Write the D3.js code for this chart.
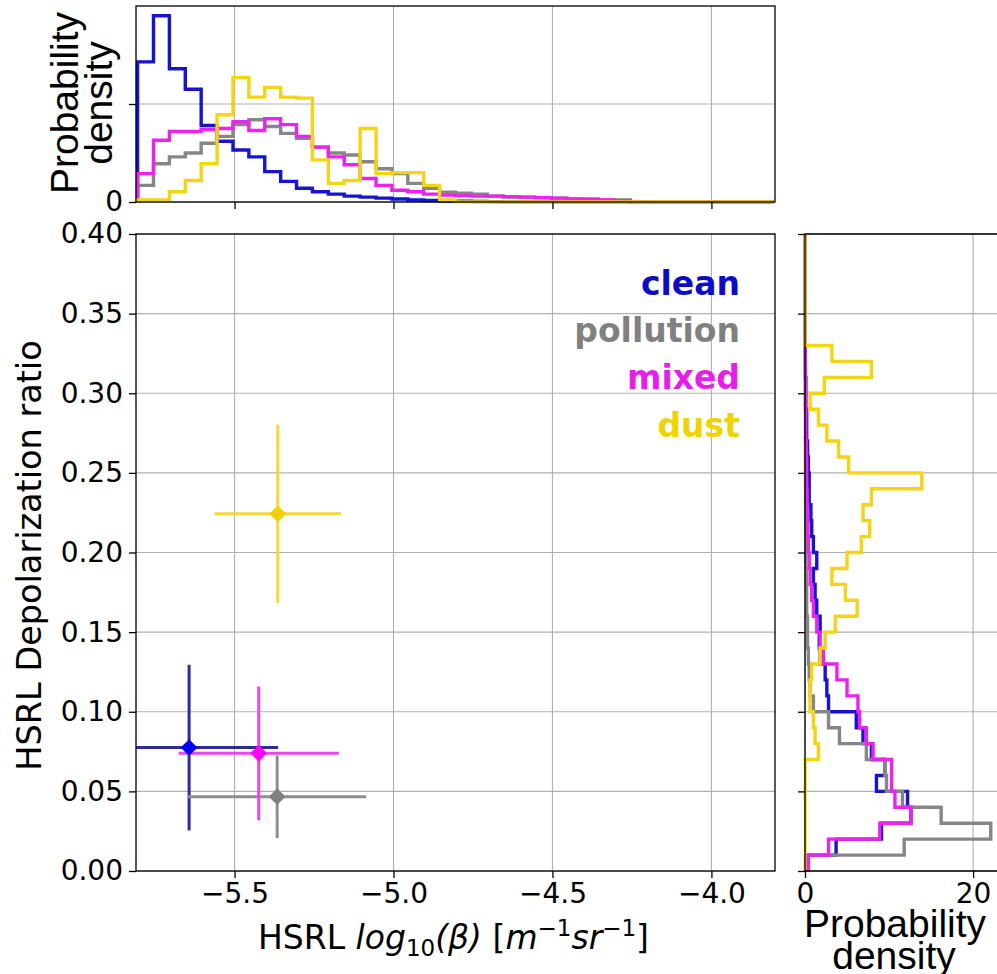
<!DOCTYPE html>
<html><head><meta charset="utf-8">
<script src="https://cdn.jsdelivr.net/npm/d3@7"></script>
<style>body{margin:0;background:#fff}svg{display:block}</style>
</head><body><svg id="c" width="997" height="974"></svg>
<script>
// ---------- data ----------
const categories = ["clean", "pollution", "mixed", "dust"];
const histColors = ["#1414d2", "#868686", "#ee22ee", "#f5d414"];
const markerColors = ["#0000ff", "#808080", "#ff00ff", "#f5d000"];
const errColors = ["#2b2b9c", "#8e8e8e", "#ee44ee", "#f3d838"];
const legendColors = ["#0c0cc8", "#808080", "#e81ee8", "#f0d400"];

// mean and spread of log10(beta) and depolarization ratio per class
const xMean = [-5.643, -5.366, -5.424, -5.364];
const xErr  = [0.28, 0.28, 0.252, 0.199];
const yMean = [0.0775, 0.0467, 0.0739, 0.2243];
const yErr  = [0.052, 0.026, 0.042, 0.056];

// top marginal histogram (log10 beta), bins of 0.05 starting at -5.805
const topBinStart = -5.805, topBinWidth = 0.05;
const topClean = [1.43,1.90,1.36,1.15,0.78,0.62,0.53,0.46,0.31,0.21,0.14,0.105,0.08,0.06,0.05,0.04,0.03,0.02,0.015,0.01,0.008,0.005,0.003,0,0,0,0,0,0,0,0,0,0,0,0,0,0,0,0,0];
const topPollution = [0.17,0.39,0.46,0.50,0.60,0.67,0.79,0.84,0.77,0.70,0.65,0.56,0.50,0.48,0.41,0.34,0.29,0.19,0.14,0.10,0.09,0.08,0.06,0.05,0.05,0.045,0.04,0.03,0.03,0.02,0.02,0,0,0,0,0,0,0,0,0];
const topMixed = [0.29,0.63,0.72,0.72,0.74,0.75,0.82,0.73,0.85,0.79,0.67,0.56,0.46,0.38,0.24,0.17,0.12,0.105,0.08,0.07,0.065,0.06,0.06,0.055,0.05,0.045,0.04,0.03,0.025,0.02,0.01,0,0,0,0,0,0,0,0,0];
const topDust = [0.02,0.02,0.105,0.22,0.39,0.89,1.27,1.07,1.17,1.07,1.06,0.43,0.19,0.22,0.75,0.29,0.30,0.30,0.17,0.02,0,0,0,0,0,0,0,0,0,0,0,0,0,0,0,0,0,0,0,0];

// right marginal histogram (depolarization), bins of 0.01 from 0 to 0.40
const rightBinStart = 0, rightBinWidth = 0.01;
const rightClean = [0.2,3.7,9.1,12.6,12.2,8.5,9.5,7.9,6.9,6.1,2.8,2.6,2.4,1.8,1.7,1.8,1.4,1.2,1.0,1.4,1.0,0.8,0.7,0.5,0.5,0.4,0.3,0.2,0.2,0.1,0.1,0.05,0.05,0,0,0,0,0,0,0];
const rightPollution = [0.4,11.8,22.1,16.2,11.6,9.7,9.5,7.3,4.1,2.8,1.0,0.6,0.5,0.4,0.3,0.3,0.2,0.2,0.15,0.1,0.1,0.08,0.06,0.05,0.05,0.04,0.03,0.02,0.02,0.01,0,0,0,0,0,0,0,0,0,0];
const rightMixed = [0.4,2.8,8.9,12.6,10.7,10.3,10.3,8.1,7.3,6.5,6.3,5.0,3.8,2.2,1.8,1.4,1.0,0.8,0.6,0.5,0.4,0.35,0.3,0.25,0.2,0.2,0.15,0.1,0.1,0.05,0.05,0.03,0,0,0,0,0,0,0,0];
const rightDust = [0,0,0,0,0,0,0,1.6,1.2,1.0,0.6,0.6,0.8,1.8,2.4,3.6,6.2,4.8,3.2,5.0,6.7,7.7,6.9,7.9,13.9,5.2,4.0,2.6,1.6,0.6,2.3,7.9,3.2,0,0,0,0,0,0,0];

const xTicks = [-5.5, -5.0, -4.5, -4.0];
const yTicks = [0, 0.05, 0.10, 0.15, 0.20, 0.25, 0.30, 0.35, 0.40];
const topYTicks = [0, 1];
const rightXTicks = [0, 20];

const topSeries = [topClean, topPollution, topMixed, topDust];
const rightSeries = [rightClean, rightPollution, rightMixed, rightDust];

// ---------- layout ----------
const svg = d3.select("#c");
svg.append("rect").attr("width", 997).attr("height", 974).attr("fill", "#fff");

const M = {l: 136, r: 775, t: 234, b: 871};
const T = {t: 6, b: 202};
const R = {l: 805, r: 1000};

const x = d3.scaleLinear().domain([-5.81, -3.80]).range([M.l, M.r]);
const y = d3.scaleLinear().domain([0, 0.40]).range([M.b, M.t]);
const yTop = d3.scaleLinear().domain([0, 2]).range([T.b, T.t]);
const xRight = d3.scaleLinear().domain([0, 23.2]).range([R.l, R.r]);

const gridColor = "#b0b0b0";
const tickFont = "DejaVu Sans, sans-serif";
const tickSize = 28;

const defs = svg.append("defs");
function clip(id, x0, y0, w, h) {
  defs.append("clipPath").attr("id", id).append("rect")
    .attr("x", x0).attr("y", y0).attr("width", w).attr("height", h);
}
clip("cTop", M.l - 1, T.t, M.r - M.l + 2, T.b - T.t + 1.5);
clip("cRight", R.l - 1.5, M.t, R.r - R.l + 2, M.b - M.t + 1);

// ---------- grids ----------
const grid = svg.append("g").attr("stroke", gridColor).attr("stroke-width", 1.1);
xTicks.forEach(v => {
  grid.append("line").attr("x1", x(v)).attr("x2", x(v)).attr("y1", M.t).attr("y2", M.b);
  grid.append("line").attr("x1", x(v)).attr("x2", x(v)).attr("y1", T.t).attr("y2", T.b);
});
yTicks.forEach(v => {
  grid.append("line").attr("x1", M.l).attr("x2", M.r).attr("y1", y(v)).attr("y2", y(v));
  grid.append("line").attr("x1", R.l).attr("x2", R.r).attr("y1", y(v)).attr("y2", y(v));
});
topYTicks.forEach(v => {
  grid.append("line").attr("x1", M.l).attr("x2", M.r).attr("y1", yTop(v)).attr("y2", yTop(v));
});
rightXTicks.forEach(v => {
  grid.append("line").attr("x1", xRight(v)).attr("x2", xRight(v)).attr("y1", M.t).attr("y2", M.b);
});

// ---------- histograms ----------
function topPts(vals) {
  const pts = [[topBinStart, 0]];
  vals.forEach((v, i) => {
    pts.push([topBinStart + i * topBinWidth, v]);
    pts.push([topBinStart + (i + 1) * topBinWidth, v]);
  });
  pts.push([topBinStart + vals.length * topBinWidth, 0]);
  return pts;
}
function rightPts(vals) {
  const pts = [[0, rightBinStart]];
  vals.forEach((v, i) => {
    pts.push([v, rightBinStart + i * rightBinWidth]);
    pts.push([v, rightBinStart + (i + 1) * rightBinWidth]);
  });
  pts.push([0, rightBinStart + vals.length * rightBinWidth]);
  return pts;
}
const topLine = d3.line().x(d => x(d[0])).y(d => yTop(d[1]));
const rightLine = d3.line().x(d => xRight(d[0])).y(d => y(d[1]));

const gTop = svg.append("g").attr("clip-path", "url(#cTop)");
const gRight = svg.append("g").attr("clip-path", "url(#cRight)");
categories.forEach((c, i) => {
  gTop.append("path").attr("d", topLine(topPts(topSeries[i])))
    .attr("fill", "none").attr("stroke", histColors[i]).attr("stroke-width", 3.4)
    .attr("stroke-linejoin", "miter");
  gRight.append("path").attr("d", rightLine(rightPts(rightSeries[i])))
    .attr("fill", "none").attr("stroke", histColors[i]).attr("stroke-width", 3.4)
    .attr("stroke-linejoin", "miter");
});

// ---------- error bars ----------
const gErr = svg.append("g");
categories.forEach((c, i) => {
  gErr.append("line")
    .attr("x1", x(Math.max(xMean[i] - xErr[i], -5.81))).attr("x2", x(xMean[i] + xErr[i]))
    .attr("y1", y(yMean[i])).attr("y2", y(yMean[i]))
    .attr("stroke", errColors[i]).attr("stroke-width", 3);
  gErr.append("line")
    .attr("x1", x(xMean[i])).attr("x2", x(xMean[i]))
    .attr("y1", y(yMean[i] - yErr[i])).attr("y2", y(yMean[i] + yErr[i]))
    .attr("stroke", errColors[i]).attr("stroke-width", 3);
});
categories.forEach((c, i) => {
  gErr.append("path")
    .attr("d", d3.symbol().type(d3.symbolSquare).size(140)())
    .attr("transform", `translate(${x(xMean[i])},${y(yMean[i])}) rotate(45)`)
    .attr("fill", markerColors[i]);
});

// ---------- legend ----------
const gLeg = svg.append("g").attr("font-family", "DejaVu Sans, sans-serif")
  .attr("font-weight", "bold").attr("font-size", 33).attr("text-anchor", "end");
categories.forEach((c, i) => {
  gLeg.append("text").attr("x", 740).attr("y", 295 + i * 47.2)
    .attr("fill", legendColors[i]).text(c);
});

// ---------- axes ----------
function styleAxis(g) {
  g.selectAll(".domain").remove();
  g.selectAll(".tick line").attr("stroke", "#000").attr("stroke-width", 1.3);
  g.selectAll(".tick text").attr("font-family", tickFont).attr("font-size", tickSize).attr("fill", "#000");
}
// main
svg.append("g").attr("transform", `translate(0,${M.b})`)
  .call(d3.axisBottom(x).tickValues(xTicks).tickFormat(d3.format(".1f")).tickSize(7).tickPadding(5))
  .call(styleAxis);
svg.append("g").attr("transform", `translate(${M.l},0)`)
  .call(d3.axisLeft(y).tickValues(yTicks).tickFormat(d3.format(".2f")).tickSize(7).tickPadding(6))
  .call(styleAxis);
// top
svg.append("g").attr("transform", `translate(0,${T.b})`)
  .call(d3.axisBottom(x).tickValues(xTicks).tickFormat("").tickSize(7))
  .call(styleAxis);
svg.append("g").attr("transform", `translate(${M.l},0)`)
  .call(d3.axisLeft(yTop).tickValues(topYTicks).tickFormat(d => d === 0 ? "0" : "").tickSize(7).tickPadding(6))
  .call(styleAxis);
// right
svg.append("g").attr("transform", `translate(0,${M.b})`)
  .call(d3.axisBottom(xRight).tickValues(rightXTicks).tickFormat(d3.format("d")).tickSize(7).tickPadding(5))
  .call(styleAxis);
svg.append("g").attr("transform", `translate(${R.l},0)`)
  .call(d3.axisLeft(y).tickValues(yTicks).tickFormat("").tickSize(7))
  .call(styleAxis);

// spines
const sp = svg.append("g").attr("stroke", "#000").attr("stroke-width", 1.3).attr("fill", "none");
sp.append("rect").attr("x", M.l).attr("y", M.t).attr("width", M.r - M.l).attr("height", M.b - M.t);
sp.append("rect").attr("x", M.l).attr("y", T.t).attr("width", M.r - M.l).attr("height", T.b - T.t);
sp.append("path").attr("d", `M${R.r + 5},${M.t}H${R.l}V${M.b}H${R.r + 5}`);

// ---------- axis labels ----------
svg.append("text").attr("transform", `translate(41,${(M.t + M.b) / 2 + 3}) rotate(-90)`)
  .attr("text-anchor", "middle").attr("font-family", "DejaVu Sans, sans-serif")
  .attr("font-size", 33.5).text("HSRL Depolarization ratio");

const xl = svg.append("text").attr("x", (M.l + M.r) / 2 - 2).attr("y", 949)
  .attr("text-anchor", "middle").attr("font-family", "DejaVu Sans, sans-serif").attr("font-size", 33);
xl.append("tspan").text("HSRL ");
xl.append("tspan").attr("font-style", "italic").text("log");
xl.append("tspan").attr("font-size", 23).attr("dy", 7).text("10");
xl.append("tspan").attr("font-style", "italic").attr("dy", -7).text("(β)");
xl.append("tspan").text(" [");
xl.append("tspan").attr("font-style", "italic").text("m");
xl.append("tspan").attr("font-size", 23).attr("dy", -13).text("−1");
xl.append("tspan").attr("font-style", "italic").attr("dy", 13).text("sr");
xl.append("tspan").attr("font-size", 23).attr("dy", -13).text("−1");
xl.append("tspan").attr("dy", 13).text("]");

const pdFont = "Liberation Sans, Arial, sans-serif";
svg.append("text").attr("transform", "translate(78,103) rotate(-90)")
  .attr("text-anchor", "middle").attr("font-family", pdFont).attr("font-size", 39).text("Probability");
svg.append("text").attr("transform", "translate(112,103) rotate(-90)")
  .attr("text-anchor", "middle").attr("font-family", pdFont).attr("font-size", 39).text("density");
svg.append("text").attr("x", 895).attr("y", 937)
  .attr("text-anchor", "middle").attr("font-family", pdFont).attr("font-size", 39).text("Probability");
svg.append("text").attr("x", 894).attr("y", 969)
  .attr("text-anchor", "middle").attr("font-family", pdFont).attr("font-size", 39).text("density");
</script></body></html>
